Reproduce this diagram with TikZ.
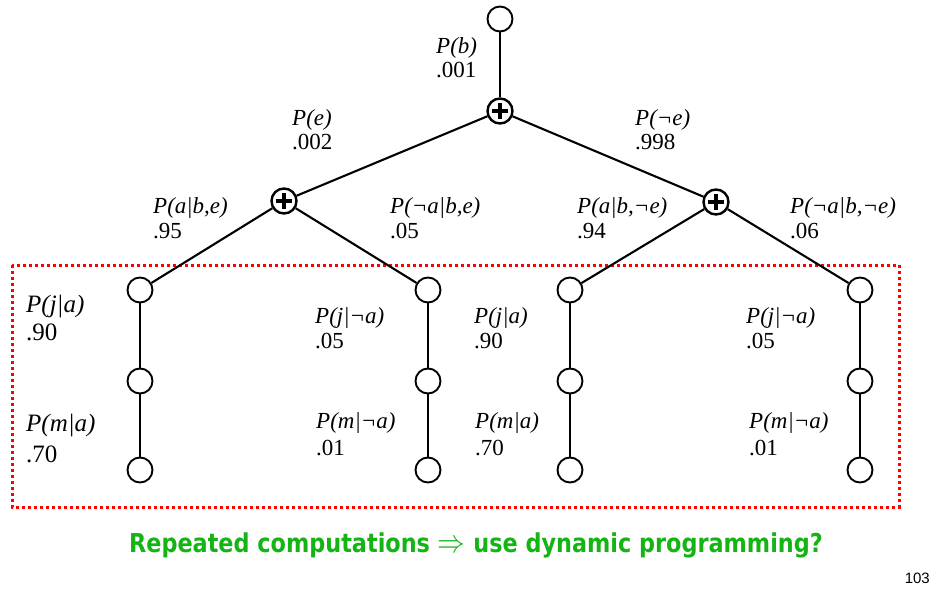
\documentclass[tikz,border=0pt]{standalone}
\usepackage{fontspec}
\setmainfont{Liberation Serif}
\newfontfamily\notefont{DejaVu Sans}
\newfontfamily\pagefont{Liberation Sans}
\definecolor{notegreen}{RGB}{20,180,20}
\begin{document}
\begin{tikzpicture}[x=1pt,y=-1pt,
  leaf/.style={circle, draw, line width=1.9pt, minimum size=25pt, inner sep=0pt, fill=white},
  sumnode/.style={circle, draw, line width=2.4pt, minimum size=25pt, inner sep=0pt, fill=white,
    path picture={
      \fill[black] ([xshift=-8pt,yshift=-2.2pt]path picture bounding box.center) rectangle ([xshift=8pt,yshift=2.2pt]path picture bounding box.center);
      \fill[black] ([xshift=-2.2pt,yshift=-8pt]path picture bounding box.center) rectangle ([xshift=2.2pt,yshift=8pt]path picture bounding box.center);
    }},
  edge/.style={line width=2.1pt},
  lab/.style={anchor=base west, inner sep=0pt, font=\fontsize{23}{27}\selectfont\itshape},
  val/.style={anchor=base west, inner sep=0pt, font=\fontsize{23}{27}\selectfont},
  labL/.style={anchor=base west, inner sep=0pt, font=\fontsize{25}{29}\selectfont\itshape},
  valL/.style={anchor=base west, inner sep=0pt, font=\fontsize{25}{29}\selectfont},
  box/.style={red, line width=3pt, dash pattern=on 3pt off 3pt}
]
\useasboundingbox (0,0) rectangle (948,595);

% dotted box
\draw[box] (12,265) rectangle (899,507);

% nodes
\node[leaf] (top) at (500,19) {};
\node[sumnode] (p0) at (500,111) {};
\node[sumnode] (pl) at (284,201) {};
\node[sumnode] (pr) at (716,202) {};

\node[leaf] (a1) at (140,290) {};
\node[leaf] (j1) at (140,381) {};
\node[leaf] (m1) at (140,470) {};
\node[leaf] (a2) at (428,290) {};
\node[leaf] (j2) at (428,381) {};
\node[leaf] (m2) at (428,470) {};
\node[leaf] (a3) at (570,290) {};
\node[leaf] (j3) at (570,381) {};
\node[leaf] (m3) at (570,470) {};
\node[leaf] (a4) at (860,290) {};
\node[leaf] (j4) at (860,381) {};
\node[leaf] (m4) at (860,470) {};

% edges
\draw[edge] (top) -- (p0);
\draw[edge] (p0) -- (pl);
\draw[edge] (p0) -- (pr);
\draw[edge] (pl) -- (a1);
\draw[edge] (pl) -- (a2);
\draw[edge] (pr) -- (a3);
\draw[edge] (pr) -- (a4);
\draw[edge] (a1) -- (j1);
\draw[edge] (j1) -- (m1);
\draw[edge] (a2) -- (j2);
\draw[edge] (j2) -- (m2);
\draw[edge] (a3) -- (j3);
\draw[edge] (j3) -- (m3);
\draw[edge] (a4) -- (j4);
\draw[edge] (j4) -- (m4);

% labels
\node[lab] (lb) at (436,53) {P(b)};
\node[val] (vb) at (436,77) {.001};
\node[lab] (le) at (292,125) {P(e)};
\node[val] (ve) at (292,149) {.002};
\node[lab] (lne) at (635,125) {P(¬e)};
\node[val] (vne) at (635,149) {.998};

\node[lab] (la1) at (153,213) {P(a|b,e)};
\node[val] (va1) at (153,238) {.95};
\node[lab] (la2) at (390,213) {P(¬a|b,e)};
\node[val] (va2) at (390,238) {.05};
\node[lab] (la3) at (577,213) {P(a|b,¬e)};
\node[val] (va3) at (577,238) {.94};
\node[lab] (la4) at (790,213) {P(¬a|b,¬e)};
\node[val] (va4) at (790,238) {.06};

\node[labL] (lj1) at (26,312) {P(j|a)};
\node[valL] (vj1) at (26,340) {.90};
\node[labL] (lm1) at (26,431) {P(m|a)};
\node[valL] (vm1) at (26,462) {.70};

\node[lab] (lj2) at (315,323) {P(j|¬a)};
\node[val] (vj2) at (315,348) {.05};
\node[lab] (lm2) at (316,428) {P(m|¬a)};
\node[val] (vm2) at (316,455) {.01};

\node[lab] (lj3) at (474,323) {P(j|a)};
\node[val] (vj3) at (474,348) {.90};
\node[lab] (lm3) at (475,428) {P(m|a)};
\node[val] (vm3) at (475,455) {.70};

\node[lab] (lj4) at (746,323) {P(j|¬a)};
\node[val] (vj4) at (746,348) {.05};
\node[lab] (lm4) at (749,428) {P(m|¬a)};
\node[val] (vm4) at (749,455) {.01};

% note
\node[anchor=base, inner sep=0pt, text=notegreen, font=\notefont\bfseries\fontsize{26}{30}\selectfont] (note) at (476,552) {\scalebox{0.86}[1]{Repeated computations \scalebox{1.3}{$\Rightarrow$} use dynamic programming?}};
\node[anchor=base east, inner sep=0pt, font=\pagefont\fontsize{15}{18}\selectfont] (page) at (930,583) {103};
\end{tikzpicture}
\end{document}
